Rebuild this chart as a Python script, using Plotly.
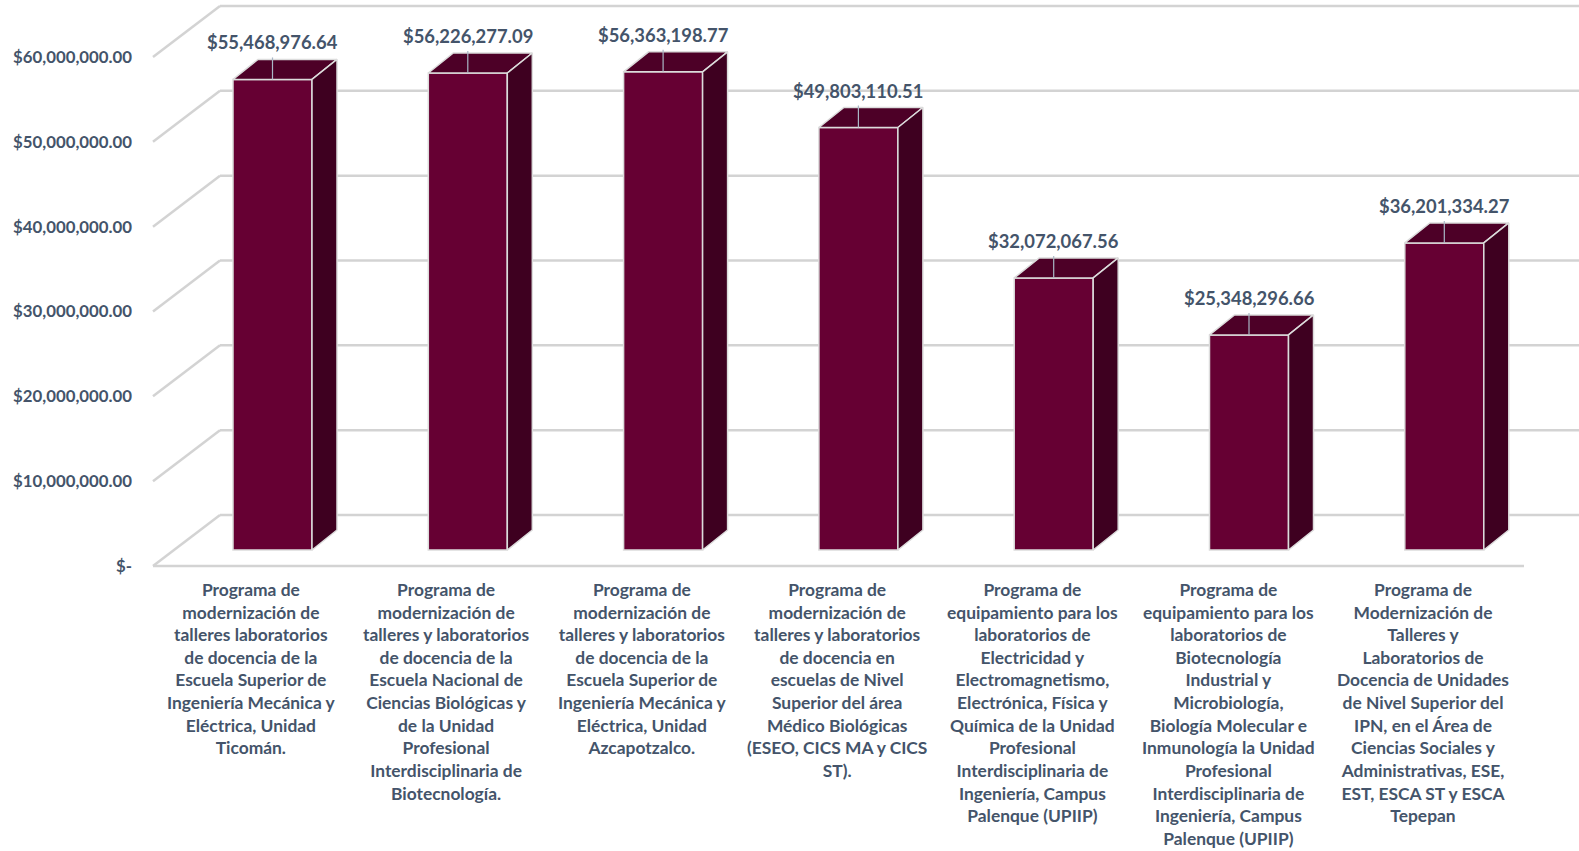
import plotly.graph_objects as go

# ---------------- data ----------------
categories = [
    "Programa de<br>modernización de<br>talleres laboratorios<br>de docencia de la<br>Escuela Superior de<br>Ingeniería Mecánica y<br>Eléctrica, Unidad<br>Ticomán.",
    "Programa de<br>modernización de<br>talleres y laboratorios<br>de docencia de la<br>Escuela Nacional de<br>Ciencias Biológicas y<br>de la Unidad<br>Profesional<br>Interdisciplinaria de<br>Biotecnología.",
    "Programa de<br>modernización de<br>talleres y laboratorios<br>de docencia de la<br>Escuela Superior de<br>Ingeniería Mecánica y<br>Eléctrica, Unidad<br>Azcapotzalco.",
    "Programa de<br>modernización de<br>talleres y laboratorios<br>de docencia en<br>escuelas de Nivel<br>Superior del área<br>Médico Biológicas<br>(ESEO, CICS MA y CICS<br>ST).",
    "Programa de<br>equipamiento para los<br>laboratorios de<br>Electricidad y<br>Electromagnetismo,<br>Electrónica, Física y<br>Química de la Unidad<br>Profesional<br>Interdisciplinaria de<br>Ingeniería, Campus<br>Palenque (UPIIP)",
    "Programa de<br>equipamiento para los<br>laboratorios de<br>Biotecnología<br>Industrial y<br>Microbiología,<br>Biología Molecular e<br>Inmunología la Unidad<br>Profesional<br>Interdisciplinaria de<br>Ingeniería, Campus<br>Palenque (UPIIP)",
    "Programa de<br>Modernización de<br>Talleres y<br>Laboratorios de<br>Docencia de Unidades<br>de Nivel Superior del<br>IPN, en el Área de<br>Ciencias Sociales y<br>Administrativas, ESE,<br>EST, ESCA ST y ESCA<br>Tepepan",
]
values = [55468976.64, 56226277.09, 56363198.77, 49803110.51,
          32072067.56, 25348296.66, 36201334.27]
tick_values = [0, 10e6, 20e6, 30e6, 40e6, 50e6, 60e6]
tick_labels = ["$-", "$10,000,000.00", "$20,000,000.00", "$30,000,000.00",
               "$40,000,000.00", "$50,000,000.00", "$60,000,000.00"]

# ---------------- styling / geometry ----------------
W, H = 1579, 851
ML = 145
X0, SX = 272.5, 195.3          # pixel of x=0, px per category
Y0, SY = 566.0, 509.0 / 60e6   # pixel of y=0, px per dollar

def px_x(p):
    return p / SX

def px_y(p):
    return p / SY

FRONT = "#660033"
SIDE = "#3E0020"
TOP = "#4D0027"
EDGE = "#DCDCDC"
GRID = "#D3D3D3"
TXT = "#44546A"
FONT = "Lato"

half_w = px_x(39.5)
depth_x = px_x(25)
depth_y = px_y(20)
base = px_y(16)
inset_x = px_x(21)
wall_dx = px_x(67)
wall_dy = px_y(51)

xr = [(ML - X0) / SX, (W - X0) / SX]
yr = [-(H - Y0) / SY, Y0 / SY]
x_left = xr[0] + px_x(8)      # front-left floor corner (pixel 153)
x_floor_right = (1524 - X0) / SX
x_far = xr[1] + px_x(30)

idx = list(range(len(values)))
fig = go.Figure()

# gridlines (left wall diagonal + back wall)
shapes = []
for tv in tick_values:
    shapes.append(dict(type="line", xref="x", yref="y", x0=x_left, y0=tv,
                       x1=x_left + wall_dx, y1=tv + wall_dy,
                       line=dict(color=GRID, width=2.5), layer="below"))
    shapes.append(dict(type="line", xref="x", yref="y", x0=x_left + wall_dx, y0=tv + wall_dy,
                       x1=x_far, y1=tv + wall_dy,
                       line=dict(color=GRID, width=2.5), layer="below"))
# floor front edge
shapes.append(dict(type="line", xref="x", yref="y", x0=x_left, y0=0, x1=x_floor_right, y1=0,
                   line=dict(color=GRID, width=2.5), layer="below"))

# front faces
fig.add_trace(go.Bar(x=idx, y=values, base=base, width=2 * half_w,
                     marker=dict(color=FRONT, line=dict(color=EDGE, width=1.5)),
                     hoverinfo="skip", showlegend=False))

# top and side faces
for i, v in zip(idx, values):
    top = base + v
    xs = [i - half_w, i + half_w, i + half_w + depth_x, i - half_w + depth_x, i - half_w]
    ys = [top, top, top + depth_y, top + depth_y, top]
    fig.add_trace(go.Scatter(x=xs, y=ys, fill="toself", fillcolor=TOP, mode="lines",
                             line=dict(color=EDGE, width=1.5), hoverinfo="skip", showlegend=False))
    xs = [i + half_w, i + half_w + depth_x, i + half_w + depth_x, i + half_w, i + half_w]
    ys = [base, base + depth_y, top + depth_y, top, base]
    fig.add_trace(go.Scatter(x=xs, y=ys, fill="toself", fillcolor=SIDE, mode="lines",
                             line=dict(color=EDGE, width=1.5), hoverinfo="skip", showlegend=False))
    # leader line
    shapes.append(dict(type="line", xref="x", yref="y", x0=i, y0=top, x1=i, y1=top + px_y(22),
                       line=dict(color="#A9B7C6", width=1.2), layer="above"))

annotations = []
for i, v in zip(idx, values):
    annotations.append(dict(x=i, y=base + v + px_y(37), xref="x", yref="y",
                            text="${:,.2f}".format(v), showarrow=False,
                            font=dict(family=FONT, size=18.4, color=TXT, weight="bold"),
                            xanchor="center", yanchor="middle"))
for i, c in zip(idx, categories):
    annotations.append(dict(x=i - inset_x, y=-px_y(11), xref="x", yref="y",
                            text=c, showarrow=False, align="center",
                            font=dict(family=FONT, size=17.4, color=TXT, weight="bold"),
                            xanchor="center", yanchor="top"))

fig.update_layout(
    width=W, height=H,
    margin=dict(l=ML, r=0, t=0, b=0),
    paper_bgcolor="white", plot_bgcolor="white",
    shapes=shapes, annotations=annotations,
    bargap=0, hovermode=False,
    xaxis=dict(range=xr, visible=False, fixedrange=True),
    yaxis=dict(range=yr, tickvals=tick_values, ticktext=tick_labels,
               showgrid=False, zeroline=False, showline=False, ticks="",
               ticklabelstandoff=12, automargin=False, fixedrange=True,
               tickfont=dict(family=FONT, size=16.8, color=TXT, weight="bold")),
)

fig.write_html("out.html", config={"displayModeBar": False, "staticPlot": True},
               post_script="document.body.style.margin='0';document.body.style.overflow='hidden';")
